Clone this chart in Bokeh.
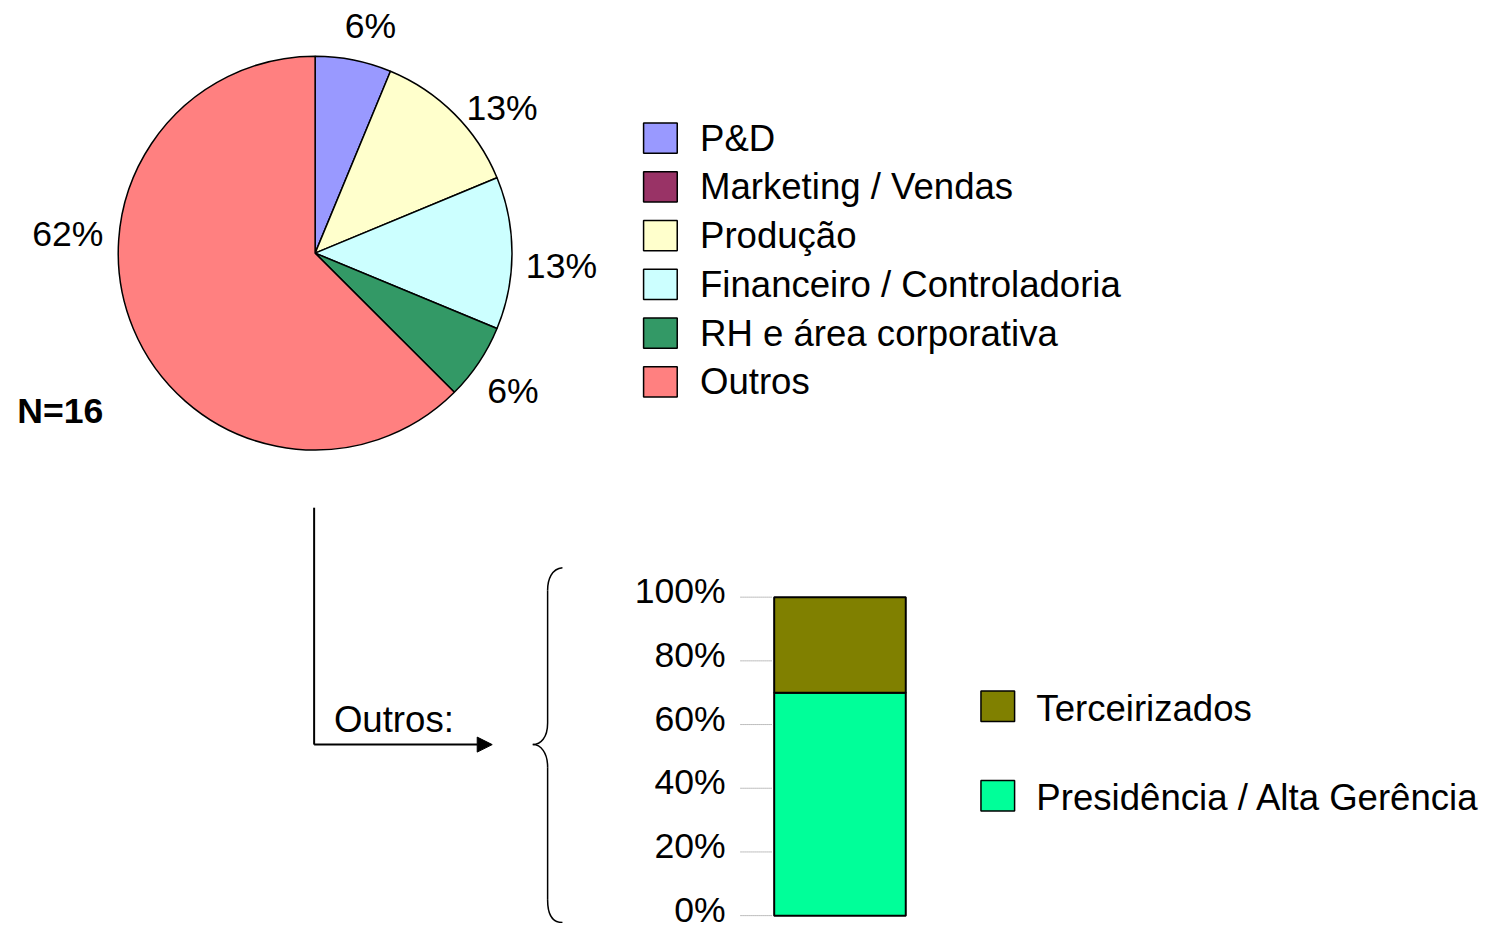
import numpy as np
from bokeh.plotting import figure
from bokeh.models import Range1d, Arrow, NormalHead, ColumnDataSource
from bokeh.core.properties import value
from bokeh.embed import file_html
from bokeh.resources import INLINE

# ---------------- data ----------------
pie_categories = ["P&D", "Marketing / Vendas", "Produção",
                  "Financeiro / Controladoria", "RH e área corporativa", "Outros"]
pie_counts = [1, 0, 2, 2, 1, 10]          # N = 16
pie_labels = ["6%", "", "13%", "13%", "6%", "62%"]
pie_colors = ["#9999FF", "#993366", "#FFFFCC", "#CCFFFF", "#339966", "#FF8080"]
n_label = "N=16"

bar_category = ["Outros"]
bar_series = ["Presidência / Alta Gerência", "Terceirizados"]
bar_presidencia = [70]
bar_terceirizados = [30]
bar_colors = ["#00FF99", "#808000"]
bar_ticks = [0, 20, 40, 60, 80, 100]
bar_tick_labels = ["0%", "20%", "40%", "60%", "80%", "100%"]

# ---------------- layout (design space = 1504 x 939 reference px) ----------------
REF_W, REF_H = 1504, 939
W, H = 1488, 923                      # fits the window with the 8px page margin
S = W / REF_W                         # uniform-ish scale for fonts / px sizes
def Y(sy):
    return REF_H - sy

PX_PER_PCT = 3.24          # bar axis: 100% spans 324 ref px
BAR_ZERO_Y = 931           # ref y of 0%
FONT = value("Liberation Sans")
def fs(px):
    return f"{px * S:.1f}px"

p = figure(width=W, height=H, x_range=Range1d(0, REF_W), y_range=Range1d(0, REF_H),
           output_backend="svg", toolbar_location=None,
           x_axis_location=None, y_axis_location=None,
           min_border=0, outline_line_color=None)
p.title = None
p.grid.visible = False
p.extra_y_ranges = {"pct": Range1d((BAR_ZERO_Y - REF_H) / PX_PER_PCT,
                                   BAR_ZERO_Y / PX_PER_PCT)}

# ---------------- pie ----------------
cx, cy, r = 318, Y(257), 199
vals = np.array(pie_counts, dtype=float)
frac = vals / vals.sum()
cum = np.concatenate([[0], np.cumsum(frac)])
start = np.pi / 2 - 2 * np.pi * cum[1:]
end = np.pi / 2 - 2 * np.pi * cum[:-1]
keep = vals > 0
pie_src = ColumnDataSource(dict(start=start[keep], end=end[keep],
                                color=[c for c, k in zip(pie_colors, keep) if k]))
p.wedge(x=cx, y=cy, radius=r, start_angle="start", end_angle="end",
        direction="anticlock", fill_color="color", line_color="black",
        line_width=1.5, source=pie_src)

label_pos = [(374, 26), None, (507, 109), (567, 270), (518, 397), (68, 238)]
lx = [pos[0] for pos, t in zip(label_pos, pie_labels) if t]
ly = [Y(pos[1]) for pos, t in zip(label_pos, pie_labels) if t]
lt = [t for t in pie_labels if t]
p.text(x=lx, y=ly, text=lt, text_font=FONT, text_font_size=fs(36),
       text_align="center", text_baseline="middle", text_color="black")

p.text(x=[17], y=[Y(418)], text=[n_label], text_font=FONT, text_font_size=fs(36),
       text_font_style="bold", text_align="left", text_baseline="middle")

# pie legend
leg_y = [Y(140 + 49.6 * i) for i in range(len(pie_categories))]
p.rect(x=667, y=leg_y, width=34, height=31, fill_color=pie_colors,
       line_color="black", line_width=1.5)
p.text(x=707, y=leg_y, text=pie_categories, text_font=FONT, text_font_size=fs(37),
       text_align="left", text_baseline="middle")

# ---------------- connector arrow & brace ----------------
p.line(x=[317, 317], y=[Y(516), Y(757)], line_color="black", line_width=2)
p.add_layout(Arrow(end=NormalHead(size=15, fill_color="black", line_color="black"),
                   x_start=317, y_start=Y(757), x_end=497, y_end=Y(757),
                   line_color="black", line_width=2))
p.text(x=[337], y=[Y(731)], text=["Outros:"], text_font=FONT, text_font_size=fs(37),
       text_align="left", text_baseline="middle")

bx, tx = 553, 538
p.bezier(x0=[568, bx, tx, bx], y0=[Y(577), Y(735), Y(757), Y(915)],
         x1=[bx, tx, bx, 568], y1=[Y(600), Y(757), Y(780), Y(938)],
         cx0=[557, bx, 546, bx], cy0=[Y(578), Y(750), Y(757), Y(929)],
         cx1=[bx, 546, bx, 557], cy1=[Y(589), Y(757), Y(765), Y(938)],
         line_color="black", line_width=1.5)
p.segment(x0=[bx, bx], y0=[Y(600), Y(780)], x1=[bx, bx], y1=[Y(735), Y(915)],
          line_color="black", line_width=1.5)

# ---------------- stacked 100% bar ----------------
bar_src = ColumnDataSource({"x": [848.5], bar_series[0]: bar_presidencia,
                            bar_series[1]: bar_terceirizados})
p.vbar_stack(stackers=bar_series, x="x", width=133, source=bar_src,
             fill_color=bar_colors, line_color="black", line_width=2,
             y_range_name="pct")

# axis: dotted tick stubs + labels
p.segment(x0=748, x1=780, y0=bar_ticks, y1=bar_ticks, y_range_name="pct",
          line_color="#808080", line_width=1, line_dash="1 1")
p.text(x=733, y=bar_ticks, text=bar_tick_labels, y_range_name="pct",
       text_font=FONT, text_font_size=fs(36), text_align="right",
       text_baseline="middle", y_offset=-6)

# bar legend (Terceirizados on top)
bl_y = [Y(718), Y(809)]
p.rect(x=1008, y=bl_y, width=34, height=31, fill_color=[bar_colors[1], bar_colors[0]],
       line_color="black", line_width=1.5)
p.text(x=1047, y=[Y(720), Y(811)], text=[bar_series[1], bar_series[0]],
       text_font=FONT, text_font_size=fs(37), text_align="left", text_baseline="middle")

open("out.html", "w").write(file_html(p, INLINE))
